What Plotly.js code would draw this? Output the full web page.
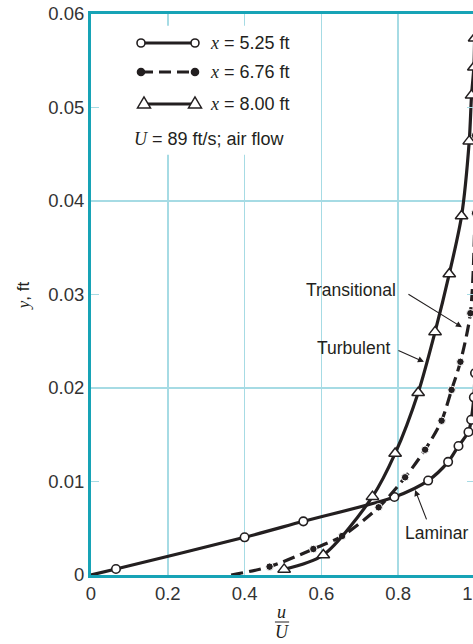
<!DOCTYPE html>
<html>
<head>
<meta charset="utf-8">
<script src="https://cdn.plot.ly/plotly-3.0.1.min.js"></script>
<style>
html, body { margin: 0; padding: 0; overflow: hidden; background: #fff; }
#chart { width: 520px; height: 644px; }
</style>
</head>
<body>
<div id="chart"></div>
<script>
// ---- data ----
const uLaminar = [0, 0.065, 0.400, 0.553, 0.790, 0.878, 0.930, 0.957, 0.983, 0.990, 0.997, 1.0];
const yLaminar = [0, 0.00064, 0.00403, 0.00574, 0.00834, 0.0101, 0.0121, 0.0138, 0.0153, 0.0166, 0.0190, 0.0216];

const uTransitional = [0.365, 0.465, 0.579, 0.654, 0.749, 0.818, 0.870, 0.913, 0.939, 0.962, 0.988, 1.0, 1.0];
const yTransitional = [0, 0.00089, 0.00278, 0.00417, 0.00724, 0.01045, 0.0134, 0.0165, 0.0198, 0.0228, 0.0280, 0.0387, 0.0470];

const uTurbulent = [0.503, 0.605, 0.733, 0.792, 0.852, 0.896, 0.933, 0.965, 0.985, 0.991, 0.997, 0.999];
const yTurbulent = [0.0006, 0.00214, 0.00838, 0.0130, 0.0195, 0.0260, 0.0322, 0.0384, 0.0464, 0.0513, 0.0543, 0.0574];

const seriesNames = ['x = 5.25 ft', 'x = 6.76 ft', 'x = 8.00 ft'];
const noteText = 'U = 89 ft/s; air flow';
const xTickVals = [0, 0.2, 0.4, 0.6, 0.8, 1.0];
const xTickText = ['0', '0.2', '0.4', '0.6', '0.8', '1.0'];
const yTickVals = [0, 0.01, 0.02, 0.03, 0.04, 0.05, 0.06];
const yTickText = ['0', '0.01', '0.02', '0.03', '0.04', '0.05', '0.06'];
const yGridVals = [0.02, 0.04];
const calloutLabels = ['Transitional', 'Turbulent', 'Laminar'];

// ---- styling ----
const AXIS = '#17a3b6';
const GRID = '#a6dbe4';
const INK = '#231f20';
const SANS = 'Liberation Sans, Arial, sans-serif';
const SERIF = 'Liberation Serif, Times New Roman, serif';

function sizes(arr, first, rest) { return arr.map((_, i) => i === 0 ? first : rest); }

const traces = [
  {
    x: uLaminar, y: yLaminar, mode: 'lines+markers', name: seriesNames[0],
    line: { color: INK, width: 3.2, shape: 'spline', smoothing: 0.8 },
    marker: { symbol: 'circle', size: sizes(uLaminar, 0, 8.5), color: '#fff', opacity: 1,
      line: { color: INK, width: 1.6 } },
    showlegend: false, hoverinfo: 'skip'
  },
  {
    x: uTransitional, y: yTransitional, mode: 'lines+markers', name: seriesNames[1],
    line: { color: INK, width: 3.2, shape: 'spline', smoothing: 0.8, dash: '12px,6px' },
    marker: { symbol: 'circle', size: sizes(uTransitional, 0, 7.5), color: INK, opacity: 1 },
    showlegend: false, hoverinfo: 'skip'
  },
  {
    x: uTurbulent, y: yTurbulent, mode: 'lines+markers', name: seriesNames[2],
    line: { color: INK, width: 3.2, shape: 'spline', smoothing: 0.8 },
    marker: { symbol: 'triangle-up', size: 11, color: '#fff', opacity: 1, line: { color: INK, width: 1.5 } },
    showlegend: false, hoverinfo: 'skip'
  },
  { x: [], y: [], yaxis: 'y2', showlegend: false, hoverinfo: 'skip' }
];

// legend (drawn as layout furniture in paper coordinates)
const legRowsY = [0.9483, 0.8966, 0.8396];
const legX0 = 0.1302, legX1 = 0.2708, legTextX = 0.3047;

function circ(xa, ya, r, fill) {
  return { type: 'circle', xref: 'paper', yref: 'paper', xsizemode: 'pixel', ysizemode: 'pixel',
    xanchor: xa, yanchor: ya, x0: -r, x1: r, y0: -r, y1: r,
    fillcolor: fill, line: { color: INK, width: 1.6 }, layer: 'above' };
}
function tri(xa, ya) {
  return { type: 'path', xref: 'paper', yref: 'paper', xsizemode: 'pixel', ysizemode: 'pixel',
    xanchor: xa, yanchor: ya, path: 'M -6.5 -4 L 6.5 -4 L 0 7 Z',
    fillcolor: '#fff', line: { color: INK, width: 1.5 }, layer: 'above' };
}
function seg(y, x0, x1, dash) {
  return { type: 'line', xref: 'paper', yref: 'paper', x0: x0, x1: x1, y0: y, y1: y,
    line: { color: INK, width: 3.2, dash: dash || 'solid' }, layer: 'above' };
}

const shapes = [
  { type: 'rect', xref: 'paper', yref: 'paper', x0: 0.023, x1: 0.557, y0: 0.749, y1: 0.979,
    fillcolor: '#fff', line: { width: 0 }, layer: 'above' },
  seg(legRowsY[0], legX0, legX1), circ(legX0, legRowsY[0], 4, '#fff'), circ(legX1, legRowsY[0], 4, '#fff'),
  seg(legRowsY[1], legX0, legX1, '12px,6px'), circ(legX0, legRowsY[1], 3.5, INK), circ(legX1, legRowsY[1], 3.5, INK),
  seg(legRowsY[2], 0.138, legX1), tri(0.138, legRowsY[2]), tri(legX1, legRowsY[2]),
  // fraction bar of u/U
  { type: 'line', xref: 'paper', yref: 'paper', x0: 0.479, x1: 0.516, y0: -0.0838, y1: -0.0838,
    line: { color: INK, width: 1 } }
];

function italicLead(s) {
  const first = s.charAt(0);
  return '<span style="font-family:' + SERIF + '"><i>' + first + '</i></span>' + s.slice(1);
}

const annotations = [];
seriesNames.forEach((n, i) => {
  annotations.push({ xref: 'paper', yref: 'paper', x: legTextX, y: legRowsY[i], xanchor: 'left', yanchor: 'middle',
    text: italicLead(n), showarrow: false, font: { family: SANS, size: 18, color: INK } });
});
annotations.push({ xref: 'paper', yref: 'paper', x: 0.1068, y: 0.7772, xanchor: 'left', yanchor: 'middle',
  text: italicLead(noteText), showarrow: false, font: { family: SANS, size: 18, color: INK } });

// callout labels
const calloutTextPos = [
  { x: 0.799, y: 0.0305, xanchor: 'right' },
  { x: 0.784, y: 0.0243, xanchor: 'right' },
  { x: 0.8125, y: 0.00449, xanchor: 'left' }
];
const calloutArrows = [
  { x: 0.966, y: 0.0265, ax: -55, ay: -34 },
  { x: 0.867, y: 0.0228, ax: -27, ay: -12 },
  { x: 0.844, y: 0.0091, ax: 12, ay: 31 }
];
calloutLabels.forEach((t, i) => {
  annotations.push({ xref: 'x', yref: 'y', x: calloutTextPos[i].x, y: calloutTextPos[i].y,
    xanchor: calloutTextPos[i].xanchor, yanchor: 'middle', text: t, showarrow: false,
    font: { family: SANS, size: 17.5, color: INK } });
  annotations.push({ xref: 'x', yref: 'y', x: calloutArrows[i].x, y: calloutArrows[i].y,
    ax: calloutArrows[i].ax, ay: calloutArrows[i].ay, text: '', showarrow: true,
    arrowhead: 2, arrowsize: 1.1, arrowwidth: 1.1, arrowcolor: INK, standoff: 0, startstandoff: 0 });
});

// axis titles
annotations.push({ xref: 'paper', yref: 'paper', x: 0.497, y: -0.0665, xanchor: 'center', yanchor: 'middle',
  text: '<i>u</i>', showarrow: false, font: { family: SERIF, size: 18, color: INK } });
annotations.push({ xref: 'paper', yref: 'paper', x: 0.497, y: -0.1016, xanchor: 'center', yanchor: 'middle',
  text: '<i>U</i>', showarrow: false, font: { family: SERIF, size: 18, color: INK } });
annotations.push({ xref: 'paper', yref: 'paper', x: -0.177, y: 0.497, xanchor: 'center', yanchor: 'middle',
  textangle: -90, text: '<span style="font-family:' + SERIF + '"><i>y</i></span>, ft', showarrow: false,
  font: { family: SANS, size: 17, color: INK } });

const layout = {
  width: 520, height: 644,
  margin: { l: 91, r: 45, t: 14, b: 69 },
  paper_bgcolor: '#fff', plot_bgcolor: '#fff',
  showlegend: false,
  font: { family: SANS, color: '#333', size: 18 },
  xaxis: {
    range: [0, 1], tickmode: 'array', tickvals: xTickVals, ticktext: xTickText,
    showgrid: true, gridcolor: GRID, gridwidth: 1.5, zeroline: false,
    showline: true, linecolor: AXIS, linewidth: 3, mirror: true, ticks: '',
    tickfont: { family: SANS, size: 18.5, color: '#333' }
  },
  yaxis: {
    range: [0, 0.06], tickmode: 'array', tickvals: yTickVals, ticktext: yTickText,
    showgrid: false, zeroline: false, showline: true, linecolor: AXIS, linewidth: 3,
    mirror: 'ticks', ticks: 'inside', ticklen: 8, tickwidth: 1.5, tickcolor: GRID,
    tickfont: { family: SANS, size: 18.5, color: '#333' }
  },
  yaxis2: {
    overlaying: 'y', anchor: 'x', range: [0, 0.06], tickmode: 'array', tickvals: yGridVals,
    showgrid: true, gridcolor: GRID, gridwidth: 1.5, showticklabels: false, ticks: '',
    showline: false, zeroline: false
  },
  shapes: shapes,
  annotations: annotations
};

Plotly.newPlot('chart', traces, layout, { displayModeBar: false, staticPlot: true });
</script>
</body>
</html>
